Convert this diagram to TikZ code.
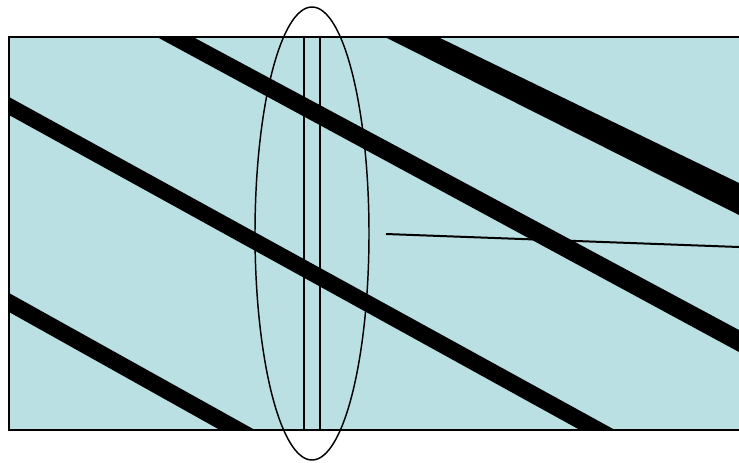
\documentclass[tikz,border=0pt]{standalone}
\definecolor{glasblau}{RGB}{187,224,227}
\tikzset{
  band/.style={fill=black, draw=none},
  kante/.style={draw=black, line width=1.1pt},
}
\begin{document}
\begin{tikzpicture}[x=0.75pt, y=-0.75pt]
  \useasboundingbox (0,0) rectangle (739,462);
  \clip (0,0) rectangle (739,462);

  % Platte
  \fill[glasblau] (9,37) rectangle (745,430);

  % Streifen
  \begin{scope}
    \clip (9,37) rectangle (745,430);
    \fill[band] (157,37) -- (193,37) -- (739,330) -- (739,352) -- cycle;
    \fill[band] (385,37) -- (438,37) -- (739,183) -- (739,215) -- cycle;
    \fill[band] (9,97) -- (615,430) -- (580,430) -- (9,115) -- cycle;
    \fill[band] (9,293) -- (255,430) -- (220,430) -- (9,312) -- cycle;
  \end{scope}

  \draw[kante] (745,37) -- (9,37) -- (9,430) -- (745,430);

  % Schnitt
  \draw[kante, line width=1.4pt] (304,37) -- (304,430);
  \draw[kante, line width=1.4pt] (320,37) -- (320,430);
  \draw[line width=1.1pt] (312,233.5) ellipse [x radius=57, y radius=226.5];

  % Zeiger
  \coordinate (von) at (386,234);
  \coordinate (bis) at (739,247);
  \draw[line width=1.5pt] (von) -- (bis);
\end{tikzpicture}
\end{document}
